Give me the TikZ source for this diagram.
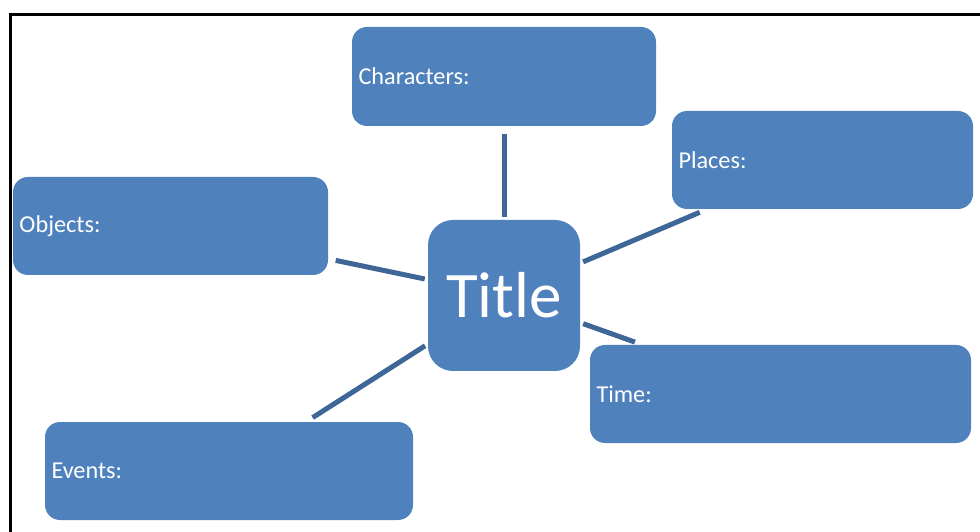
\documentclass[tikz,border=0pt]{standalone}
\usepackage{fontspec}
\setmainfont{Carlito}
\usepackage{tikz}
\usetikzlibrary{calc}
\definecolor{boxblue}{RGB}{79,129,189}
\definecolor{linkblue}{RGB}{62,102,150}
\tikzset{
    story map/.style={
            box/.style={draw=none,fill=boxblue,rounded corners=0.3cm,text=white,
                    minimum height=1.96cm,inner xsep=0.13cm,align=left,
                    font=\fontsize{13.8}{16}\selectfont},
            link/.style={draw=linkblue,line width=0.1cm,shorten <=0.06cm,shorten >=0.15cm}
        }
    }

\begin{document}
\begin{tikzpicture}[story map]
    \useasboundingbox (0,0) rectangle (19.6,10.62);
    \begin{scope}
        \clip (0,0) rectangle (19.6,10.62);
        \draw [line width=0.06cm] (0.214,-1) |- (20.5,10.334);
    \end{scope}
    \node (title) [box,rounded corners=0.5cm,minimum width=3.04cm,minimum height=3.02cm,
        align=center,font=\fontsize{37}{44}\selectfont] at (10.08,4.71) {Title};
    \node (chars) [box,minimum width=6.08cm,minimum height=1.98cm,text width=5.82cm] at (10.08,9.09) {Characters:};
    \node (places) [box,minimum width=6.02cm,text width=5.76cm] at (16.45,7.42) {Places:};
    \node (objects) [box,minimum width=6.30cm,text width=6.04cm] at (3.41,6.10) {Objects:};
    \node (time) [box,minimum width=7.62cm,text width=7.36cm] at (15.61,2.74) {Time:};
    \node (events) [box,minimum width=7.36cm,text width=7.10cm] at (4.58,1.20) {Events:};
    \draw [link] (title) -- (chars);
    \draw [link] (title) -- (places);
    \draw [link] (title) -- (objects);
    \draw [link] (title) -- (time);
    \draw [link] (title) -- (events);
\end{tikzpicture}
\end{document}
